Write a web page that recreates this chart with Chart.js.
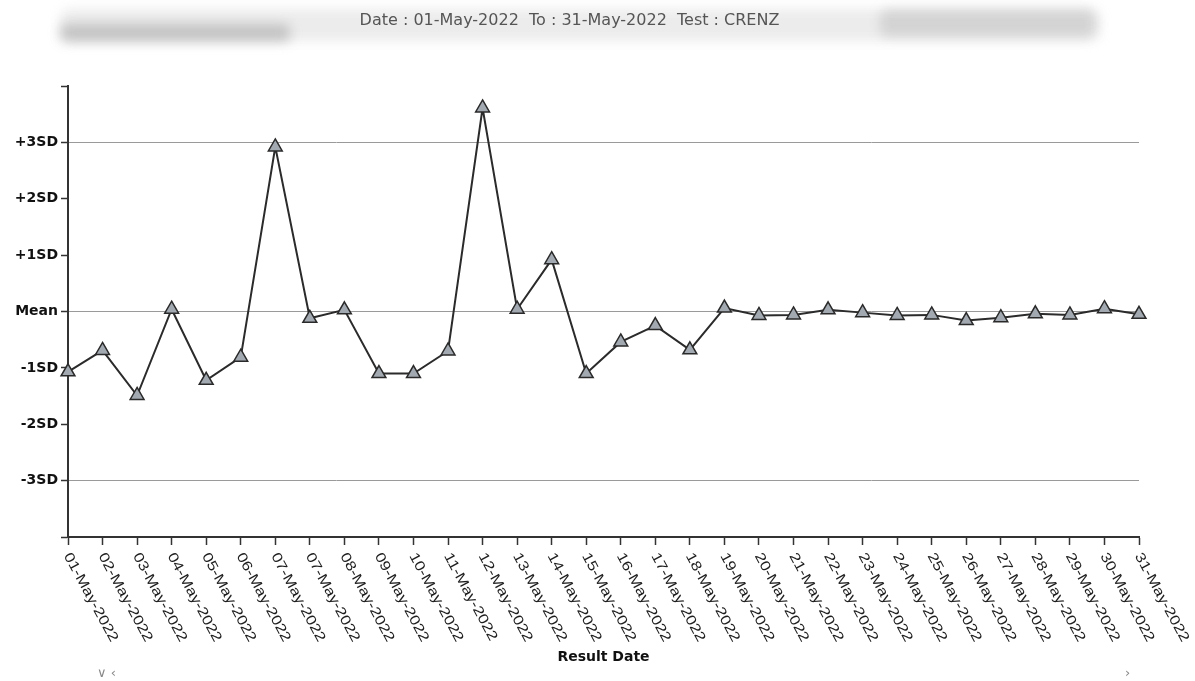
<!DOCTYPE html>
<html>
<head>
<meta charset="utf-8">
<script src="https://cdn.jsdelivr.net/npm/chart.js@4.4.1/dist/chart.umd.min.js"></script>
<style>
  html, body { margin: 0; padding: 0; background: #ffffff; }
  #wrap { width: 1195px; height: 681px; position: relative; }
</style>
</head>
<body>
<div id="wrap"><canvas id="lj" width="1195" height="681"></canvas></div>
<script>
// Result dates (the 7th appears twice: two runs that day)
const resultDates = [
  '01-May-2022', '02-May-2022', '03-May-2022', '04-May-2022', '05-May-2022',
  '06-May-2022', '07-May-2022', '07-May-2022', '08-May-2022', '09-May-2022',
  '10-May-2022', '11-May-2022', '12-May-2022', '13-May-2022', '14-May-2022',
  '15-May-2022', '16-May-2022', '17-May-2022', '18-May-2022', '19-May-2022',
  '20-May-2022', '21-May-2022', '22-May-2022', '23-May-2022', '24-May-2022',
  '25-May-2022', '26-May-2022', '27-May-2022', '28-May-2022', '29-May-2022',
  '30-May-2022', '31-May-2022'
];

// QC results expressed in SD units from the mean
const sdValues = [
  -1.07, -0.69, -1.49, 0.04, -1.22,
  -0.81, 2.92, -0.12, 0.03, -1.10,
  -1.10, -0.70, 3.61, 0.04, 0.92,
  -1.10, -0.54, -0.25, -0.68, 0.06,
  -0.07, -0.06, 0.03, -0.02, -0.07,
  -0.06, -0.16, -0.11, -0.04, -0.06,
  0.05, -0.05
];

// Control limit ticks and their labels
const sdTicks = [-3, -2, -1, 0, 1, 2, 3];
const sdTickLabels = ['-3SD', '-2SD', '-1SD', 'Mean', '+1SD', '+2SD', '+3SD'];
// Lines drawn across the plot
const controlLines = [-3, 0, 3];

const headerText = 'Date : 01-May-2022  To : 31-May-2022  Test : CRENZ';
const axisTitle = 'Result Date';

// Soft grey header band behind the report heading
const headerBand = {
  id: 'headerBand',
  beforeDraw(chart) {
    const ctx = chart.ctx;
    ctx.save();
    ctx.fillStyle = '#ffffff';
    ctx.fillRect(0, 0, chart.width, chart.height);
    ctx.filter = 'blur(6px)';
    ctx.fillStyle = 'rgba(170,170,170,0.22)';
    ctx.beginPath();
    ctx.roundRect(60, 9, 1040, 32, 10);
    ctx.fill();
    ctx.fillStyle = 'rgba(120,120,120,0.35)';
    ctx.beginPath();
    ctx.roundRect(60, 24, 230, 18, 6);
    ctx.fill();
    ctx.fillStyle = 'rgba(140,140,140,0.25)';
    ctx.beginPath();
    ctx.roundRect(880, 9, 215, 28, 8);
    ctx.fill();
    ctx.restore();
  }
};

// Slanted date labels hanging from each x tick
const slantedDates = {
  id: 'slantedDates',
  afterDraw(chart) {
    const sc = chart.scales.x;
    const ctx = chart.ctx;
    ctx.save();
    ctx.font = '14px "Liberation Sans", Arial, sans-serif';
    ctx.fillStyle = '#1e1e1e';
    ctx.textAlign = 'left';
    ctx.textBaseline = 'middle';
    sc.ticks.forEach((t, i) => {
      const x = sc.getPixelForTick(i);
      ctx.save();
      ctx.translate(x - 1, sc.top + 17);
      ctx.rotate(61.5 * Math.PI / 180);
      ctx.scale(1.2, 1);
      ctx.fillText(chart.data.labels[i], 0, 0);
      ctx.restore();
    });
    // scroll arrows under the chart
    ctx.fillStyle = '#888';
    ctx.font = '13px "DejaVu Sans", sans-serif';
    ctx.fillText('\u2228 \u2039', 97, 674);
    ctx.fillText('\u203A', 1125, 674);
    ctx.restore();
  }
};

new Chart(document.getElementById('lj'), {
  type: 'line',
  data: {
    labels: resultDates,
    datasets: [{
      data: sdValues,
      borderColor: '#2b2b2b',
      borderWidth: 2,
      tension: 0,
      pointStyle: 'triangle',
      pointRadius: 8,
      pointHoverRadius: 8,
      pointBackgroundColor: '#a2a9b1',
      pointBorderColor: '#2a2a2a',
      pointBorderWidth: 1.5
    }]
  },
  options: {
    responsive: false,
    animation: false,
    layout: { padding: { left: 0, right: 56, top: 0, bottom: 0 } },
    plugins: {
      legend: { display: false },
      tooltip: { enabled: false },
      title: {
        display: true,
        text: headerText,
        color: '#555',
        font: { family: 'DejaVu Sans', size: 16, weight: 'normal' },
        padding: { top: 11, bottom: 55.8 }
      }
    },
    scales: {
      x: {
        type: 'category',
        offset: false,
        border: { display: true, color: '#333', width: 2 },
        grid: {
          display: true,
          drawOnChartArea: false,
          drawTicks: true,
          tickLength: 8,
          tickColor: '#333',
          tickWidth: 1.5
        },
        ticks: { display: false, autoSkip: false },
        title: {
          display: true,
          text: axisTitle,
          color: '#111',
          font: { family: 'DejaVu Sans', size: 14, weight: 'bold' },
          padding: { top: 0, bottom: 15 }
        },
        afterFit(scale) { scale.height = 144; }
      },
      y: {
        min: -4,
        max: 4,
        border: { display: true, color: '#333', width: 2 },
        grid: {
          drawOnChartArea: true,
          drawTicks: true,
          tickLength: 7,
          tickColor: '#333',
          tickWidth: 1.5,
          lineWidth: 1,
          color: (c) => (c.tick && controlLines.includes(c.tick.value)) ? '#9a9a9a' : 'rgba(0,0,0,0)'
        },
        ticks: {
          stepSize: 1,
          padding: 3,
          color: '#111',
          font: { family: 'DejaVu Sans', size: 14, weight: 'bold' },
          callback: (v) => {
            const k = sdTicks.indexOf(v);
            return k >= 0 ? sdTickLabels[k] : '';
          }
        },
        afterFit(scale) { scale.width = 68; }
      }
    }
  },
  plugins: [headerBand, slantedDates]
});
</script>
</body>
</html>
